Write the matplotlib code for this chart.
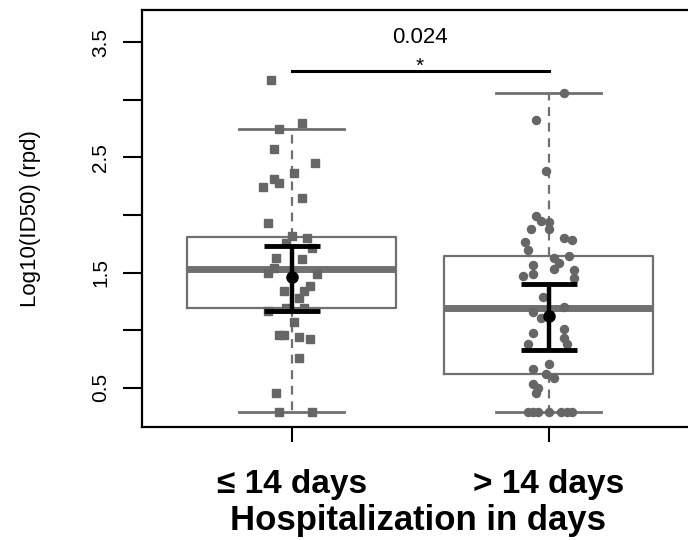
import matplotlib
matplotlib.use("Agg")
import matplotlib.pyplot as plt

# groups
groups = ["\u2264 14 days", "> 14 days"]

# box statistics
q1 = [1.19, 0.62]
med = [1.535, 1.19]
q3 = [1.81, 1.64]
whislo = [0.29, 0.29]
whishi = [2.75, 3.06]

# mean and error bars
means = [1.46, 1.12]
err_lo = [1.17, 0.83]
err_hi = [1.73, 1.40]

# individual points (x jitter, y value)
left_x = [0.92, 0.95, 1.04, 0.93, 1.09, 1.01, 0.93, 0.95, 0.89, 1.04,
          0.91, 1.00, 1.06, 0.98, 1.08, 0.94, 1.04, 0.93, 0.91, 1.10,
          0.97, 1.07, 1.05, 1.03, 0.98, 1.05, 0.91, 1.01, 0.95, 0.97,
          1.03, 1.07, 1.03, 0.94, 0.95, 1.08]
left_y = [3.17, 2.75, 2.80, 2.57, 2.45, 2.36, 2.31, 2.28, 2.24, 2.15,
          1.93, 1.82, 1.80, 1.76, 1.71, 1.63, 1.62, 1.54, 1.50, 1.49,
          1.34, 1.38, 1.34, 1.28, 1.19, 1.19, 1.17, 1.07, 0.96, 0.96,
          0.94, 0.92, 0.76, 0.46, 0.29, 0.29]
right_x = [2.06, 1.95, 1.99, 1.95, 1.97, 2.00, 1.93, 2.00, 2.06, 2.09,
           1.91, 1.92, 2.02, 2.08, 1.94, 2.04, 2.02, 2.10, 1.94, 1.90,
           2.10, 1.98, 2.06, 1.94, 1.97, 1.94, 2.06, 2.06, 1.92, 2.07,
           2.00, 1.94, 1.99, 2.02, 1.94, 1.96, 1.95, 1.92, 1.94, 1.96,
           2.00, 2.05, 2.07, 2.09]
right_y = [3.06, 2.82, 2.38, 1.99, 1.95, 1.94, 1.88, 1.88, 1.80, 1.78,
           1.77, 1.70, 1.63, 1.64, 1.57, 1.58, 1.53, 1.52, 1.49, 1.47,
           1.45, 1.29, 1.20, 1.16, 1.11, 0.98, 1.01, 0.93, 0.88, 0.88,
           0.71, 0.66, 0.62, 0.59, 0.53, 0.50, 0.46, 0.29, 0.29, 0.29,
           0.29, 0.29, 0.29, 0.29]

p_value = "0.024"
bracket_y = 3.25

grey = "#707070"
font = "Liberation Sans"

fig = plt.figure(figsize=(6.88, 5.4), dpi=100)
ax = fig.add_axes([142 / 688, 113 / 540, 552 / 688, 417 / 540])

# R-style boxes from the read statistics
stats = []
for i in range(2):
    stats.append({"med": med[i], "q1": q1[i], "q3": q3[i],
                  "whislo": whislo[i], "whishi": whishi[i], "fliers": []})

ax.bxp(stats, positions=[1, 2], widths=0.81, showfliers=False,
       boxprops=dict(color=grey, linewidth=1.6),
       medianprops=dict(color=grey, linewidth=5, solid_capstyle="butt"),
       whiskerprops=dict(color=grey, linewidth=1.6, linestyle=(0, (4, 3))),
       capprops=dict(color=grey, linewidth=2.0),
       capwidths=0.41)

ax.plot(left_x, left_y, "s", color="#666666", markersize=6, zorder=3)
ax.plot(right_x, right_y, "o", color="#666666", markersize=5.8, zorder=3)

for i, x in enumerate([1, 2]):
    ax.errorbar(x, means[i], yerr=[[means[i] - err_lo[i]], [err_hi[i] - means[i]]],
                fmt="o", color="black", markersize=8, elinewidth=3.2,
                capsize=20, capthick=3.5, zorder=4)

# significance bracket
ax.plot([1, 2], [bracket_y, bracket_y], color="black", linewidth=2.2)
ax.text(1.5, bracket_y + 0.04, "*", ha="center", va="center", fontsize=15,
        family=font)
ax.text(1.5, bracket_y + 0.20, p_value, ha="center", va="bottom", fontsize=16,
        family=font)

ax.set_xlim(0.418, 2.566)
ax.set_ylim(0.161, 3.778)
ax.set_yticks([0.5, 1.0, 1.5, 2.0, 2.5, 3.0, 3.5])
ax.set_yticklabels(["0.5", "", "1.5", "", "2.5", "", "3.5"], rotation=90,
                   va="center", fontsize=15, family=font)
ax.set_xticks([1, 2])
ax.set_xticklabels(groups, fontsize=24, fontweight="bold", family=font)
ax.tick_params(axis="y", length=14, width=1.5, pad=9)
ax.tick_params(axis="x", length=11, width=1.5, pad=19)
for s in ax.spines.values():
    s.set_linewidth(1.6)

ax.set_ylabel("Log10(ID50) (rpd)", fontsize=16, family=font, labelpad=36)
ax.set_xlabel("Hospitalization in days", fontsize=25, fontweight="bold",
              family=font, labelpad=3)

fig.savefig("out.png", dpi=100)
